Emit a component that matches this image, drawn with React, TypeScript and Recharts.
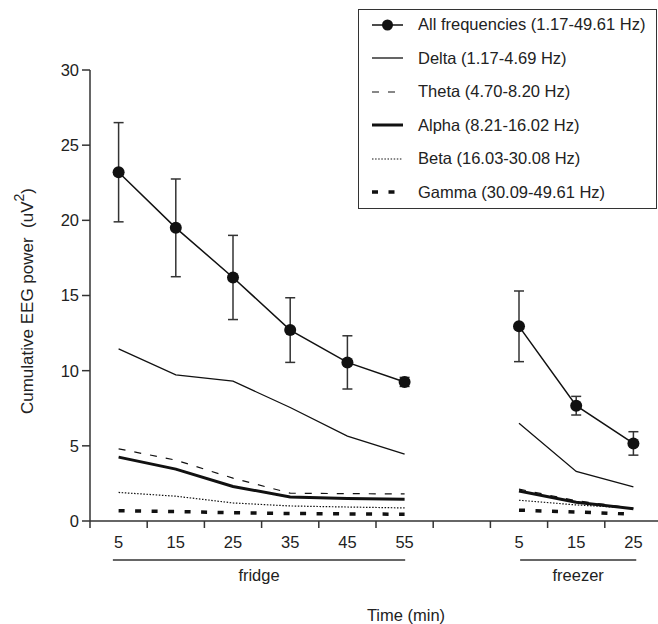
import React from 'react';
import { LineChart, Line, XAxis, YAxis, ErrorBar, Legend, ReferenceLine } from 'recharts';

// ---- data ----
const xTickLabels = ['5', '15', '25', '35', '45', '55', '', '5', '15', '25'];
const fridgeIndex = [0, 1, 2, 3, 4, 5];
const freezerIndex = [7, 8, 9];

const fridgeAll = [23.2, 19.5, 16.2, 12.7, 10.55, 9.25];
const fridgeAllErr = [3.3, 3.25, 2.8, 2.15, 1.77, 0.3];
const fridgeDelta = [11.45, 9.72, 9.3, 7.55, 5.65, 4.45];
const fridgeTheta = [4.8, 4.05, 2.85, 1.85, 1.82, 1.8];
const fridgeAlpha = [4.25, 3.45, 2.3, 1.6, 1.5, 1.45];
const fridgeBeta = [1.9, 1.65, 1.2, 1.0, 0.93, 0.87];
const fridgeGamma = [0.68, 0.63, 0.55, 0.5, 0.47, 0.45];

const freezerAll = [12.95, 7.67, 5.16];
const freezerAllErr = [2.35, 0.62, 0.78];
const freezerDelta = [6.5, 3.3, 2.27];
const freezerTheta = [2.12, 1.35, 0.85];
const freezerAlpha = [2.0, 1.25, 0.82];
const freezerBeta = [1.38, 1.07, 0.85];
const freezerGamma = [0.72, 0.6, 0.45];

const yTicks = [0, 5, 10, 15, 20, 25, 30];
const xTicks = [-0.5, 0, 0.5, 1, 1.5, 2, 2.5, 3, 3.5, 4, 4.5, 5, 5.5, 6, 6.5, 7, 7.5, 8, 8.5, 9];

const groups = [
  { name: 'fridge', from: -0.1, to: 5.01 },
  { name: 'freezer', from: 7.02, to: 9.05 },
];

// ---- table for the library ----
type Row = { [k: string]: number | undefined };
const rows: Row[] = [];
for (let i = 0; i <= 9; i++) rows.push({ x: i });
fridgeIndex.forEach((xi, j) => {
  Object.assign(rows[xi], {
    all: fridgeAll[j], allErr: fridgeAllErr[j], delta: fridgeDelta[j], theta: fridgeTheta[j],
    alpha: fridgeAlpha[j], beta: fridgeBeta[j], gamma: fridgeGamma[j],
  });
});
freezerIndex.forEach((xi, j) => {
  Object.assign(rows[xi], {
    all: freezerAll[j], allErr: freezerAllErr[j], delta: freezerDelta[j], theta: freezerTheta[j],
    alpha: freezerAlpha[j], beta: freezerBeta[j], gamma: freezerGamma[j],
  });
});

const INK = '#111';
const TXT = '#222';
const FONT = '"Liberation Sans", Arial, Helvetica, sans-serif';
const FS = 16.5;

const series = [
  { key: 'all', label: 'All frequencies (1.17-49.61 Hz)', width: 1.5, dash: undefined as string | undefined, dot: true },
  { key: 'delta', label: 'Delta (1.17-4.69 Hz)', width: 1.3, dash: undefined, dot: false },
  { key: 'theta', label: 'Theta (4.70-8.20 Hz)', width: 1.2, dash: '7 9', dot: false },
  { key: 'alpha', label: 'Alpha (8.21-16.02 Hz)', width: 3, dash: undefined, dot: false },
  { key: 'beta', label: 'Beta (16.03-30.08 Hz)', width: 1.2, dash: '1.5 1.6', dot: false },
  { key: 'gamma', label: 'Gamma (30.09-49.61 Hz)', width: 3.5, dash: '6 10.5', dot: false },
];

const XTick = (props: any) => {
  const { x, y, payload } = props;
  const v = payload.value as number;
  if (Number.isInteger(v)) {
    return (
      <text x={x} y={y + 27} textAnchor="middle" fontSize={FS} fill={TXT}>
        {xTickLabels[v]}
      </text>
    );
  }
  return <line x1={x} y1={y} x2={x} y2={y + 7} stroke="#333" strokeWidth={1.5} />;
};

const YLabel = (props: any) => {
  const vb = props.viewBox || { x: 0, y: 70, width: 90, height: 451 };
  const cy = vb.y + vb.height / 2 + 5.5;
  return (
    <text
      transform={`translate(27,${cy}) rotate(-90)`}
      textAnchor="middle"
      dominantBaseline="central"
      fontSize={17}
      fill={TXT}
      style={{ whiteSpace: 'pre' }}
    >
      {'Cumulative EEG power  (uV'}
      <tspan dy={-8} fontSize={14}>2</tspan>
      <tspan dy={8}>)</tspan>
    </text>
  );
};

const LegendBox = () => (
  <div
    style={{
      border: '1px solid #333',
      width: 297,
      height: 198,
      background: '#fff',
      fontFamily: FONT,
      fontSize: FS,
      color: TXT,
      overflow: 'visible',
    }}
  >
    <div style={{ marginTop: -2 }}>
      {series.map((s) => (
        <div key={s.key} style={{ display: 'flex', alignItems: 'center', height: 33.5, whiteSpace: 'nowrap' }}>
          <svg width={31} height={14} style={{ marginLeft: 13, marginRight: 15, overflow: 'visible' }}>
            <line x1={0} y1={7} x2={31} y2={7} stroke={INK} strokeWidth={s.width} strokeDasharray={s.dash} />
            {s.dot && <circle cx={15.5} cy={7} r={5.5} fill={INK} />}
          </svg>
          <span>{s.label}</span>
        </div>
      ))}
    </div>
  </div>
);

export default function App() {
  return (
    <div style={{ position: 'absolute', left: 0, top: 0, width: 658, height: 624, background: '#fff', fontFamily: FONT }}>
      <LineChart width={658} height={624} data={rows} margin={{ top: 70, right: 0, bottom: 0, left: 0 }}>
        <XAxis
          dataKey="x"
          type="number"
          domain={[-0.5, 9.43]}
          ticks={xTicks}
          interval={0}
          height={103}
          tickSize={0}
          tickMargin={0}
          tickLine={false}
          tick={<XTick />}
          axisLine={{ stroke: '#333', strokeWidth: 1.5 }}
          label={{ value: 'Time (min)', position: 'insideBottom', offset: 3, dx: 32, fontSize: FS, fill: TXT }}
        />
        <YAxis
          type="number"
          domain={[0, 30]}
          ticks={yTicks}
          width={90}
          tickSize={8}
          tickMargin={3}
          tick={{ fontSize: FS, fill: TXT }}
          tickLine={{ stroke: '#333', strokeWidth: 1.5 }}
          axisLine={{ stroke: '#333', strokeWidth: 1.5 }}
          label={<YLabel />}
        />
        {groups.map((g) => (
          <ReferenceLine
            key={g.name}
            segment={[{ x: g.from, y: -2.6 }, { x: g.to, y: -2.6 }]}
            ifOverflow="visible"
            stroke="#333"
            strokeWidth={1.5}
            label={{ value: g.name, position: 'bottom', offset: 9, fontSize: FS, fill: TXT }}
          />
        ))}
        {series
          .filter((s) => !s.dot)
          .map((s) => (
            <Line
              key={s.key}
              dataKey={s.key}
              type="linear"
              stroke={INK}
              strokeWidth={s.width}
              strokeDasharray={s.dash}
              dot={false}
              activeDot={false}
              isAnimationActive={false}
              connectNulls={false}
            />
          ))}
        <Line
          dataKey="all"
          type="linear"
          stroke={INK}
          strokeWidth={1.5}
          dot={{ r: 6, fill: INK, stroke: INK, strokeWidth: 0 }}
          activeDot={false}
          isAnimationActive={false}
          connectNulls={false}
        >
          <ErrorBar dataKey="allErr" direction="y" width={5} stroke="#333" strokeWidth={1.5} />
        </Line>
        <Legend
          layout="vertical"
          align="center"
          verticalAlign="middle"
          wrapperStyle={{ left: 358, top: 9, width: 300 }}
          content={<LegendBox />}
        />
      </LineChart>
    </div>
  );
}
